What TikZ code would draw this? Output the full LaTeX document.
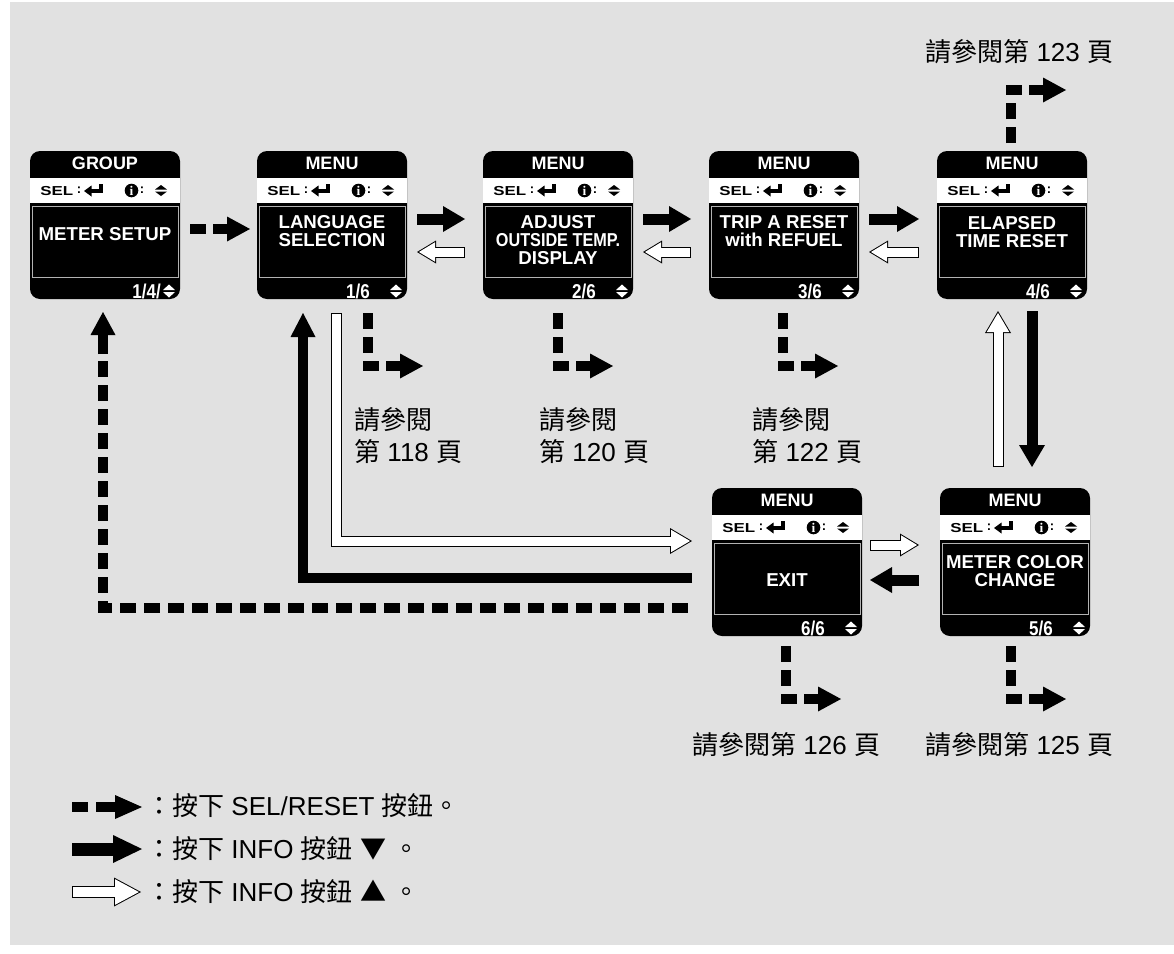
\documentclass[tikz,border=0pt]{standalone}
\usepackage{fontspec}
\setmainfont{Liberation Sans}
\newfontfamily\cjk{Noto Sans CJK TC}
\newfontfamily\infofont{Liberation Serif}
\usetikzlibrary{arrows.meta,calc}
\definecolor{bggray}{RGB}{225,225,225}
\tikzset{
  screenbox/.style={fill=black, rounded corners=7.5pt, minimum width=112.5pt, minimum height=111pt, inner sep=0pt, outer sep=0pt},
  wtxt/.style={text=white, font=\fontsize{13.5}{13.8}\selectfont\bfseries, align=center, inner sep=0pt},
  bodytxt/.style={text=white, font=\fontsize{14}{13.8}\selectfont\bfseries, align=center, inner sep=0pt},
  ftxt/.style={text=white, font=\fontsize{15}{15}\selectfont\bfseries, inner sep=0pt},
  btxt/.style={text=black, font=\fontsize{9.75}{10}\selectfont\bfseries, inner sep=0pt},
  panelline/.style={draw=white!70!black, line width=0.6pt},
  blackarrow/.style={line width=8.25pt, line join=miter, -{Triangle[length=16.5pt, width=19.5pt, line width=0pt]}},
  blackloop/.style={line width=7.5pt, line join=miter, -{Triangle[length=18pt, width=18.75pt, line width=0pt]}},
  wout/.style={line width=8.25pt, black, line join=miter, -{Triangle[length=14.25pt, width=17.25pt, line width=0pt]}},
  win/.style={line width=6.75pt, white, line join=miter, shorten <=0.75pt, shorten >=1.45pt, -{Triangle[length=12.05pt, width=14.6pt, line width=0pt]}},
  woutB/.style={line width=8.25pt, black, line join=miter, -{Triangle[length=16.5pt, width=19.5pt, line width=0pt]}},
  winB/.style={line width=6.75pt, white, line join=miter, shorten <=0.75pt, shorten >=1.47pt, -{Triangle[length=14.28pt, width=16.9pt, line width=0pt]}},
  seldash/.style={line width=7.5pt, dash pattern=on 12pt off 6pt, line join=miter, line cap=butt},
  selhead/.style={line width=7.5pt, -{Triangle[length=17.25pt, width=18.75pt, line width=0pt]}},
  legsel/.style={line width=7.5pt, -{Triangle[length=20.25pt, width=18pt, line width=0pt]}},
  legblack/.style={line width=9.75pt, -{Triangle[length=21.75pt, width=21pt, line width=0pt]}},
  legwout/.style={line width=9pt, black, -{Triangle[length=20.25pt, width=21.75pt, line width=0pt]}},
  legwin/.style={line width=7.5pt, white, shorten <=0.75pt, shorten >=1.58pt, -{Triangle[length=17.9pt, width=19.25pt, line width=0pt]}},
  lab/.style={font=\fontsize{19.5}{24}\selectfont, inner sep=0pt, align=left, anchor=west},
}
\newcommand\updown[4]{%
  \fill[#3] (#1-6,#2-1) -- (#1+6,#2-1) -- (#1,#2-#4) -- cycle;
  \fill[#3] (#1-6,#2+1) -- (#1+6,#2+1) -- (#1,#2+#4) -- cycle;}
\newcommand\whitearrow[3]{\draw[#1] #3; \draw[#2] #3;}
% #1 name, #2 x, #3 y, #4 title, #5 body, #6 body y, #7 footer, #8 footer right x
\newcommand\screen[8]{%
  \begin{scope}[shift={(#2,#3)}]
    \node[screenbox] (#1) at (75,74) {};
    \fill[white] (0,27) rectangle (150,52);
    \draw[panelline] (2,55) rectangle (148,126);
    \node[wtxt] (#1-title) at (75,12.5) {#4};
    \node[bodytxt] (#1-body) at (75,#6) {#5};
    \node[ftxt, anchor=east] (#1-foot) at (#8,140) {\scalebox{0.85}[1]{#7}};
    \node[btxt, anchor=west] (#1-sel) at (10,40) {\scalebox{1.3}[1]{SEL}};
    \node[btxt] (#1-c1) at (49,39) {:};
    \fill (54,40) -- (61.5,34.5) -- (61.5,45.5) -- cycle;
    \draw[line width=2.4pt, line join=miter] (60,40) -- (71,40) -- (71,33);
    \fill (101.5,39.5) circle[radius=6.8];
    \node[text=white, font=\fontsize{10}{10}\selectfont\infofont\bfseries, inner sep=0pt] (#1-i) at (101.5,39.8) {i};
    \node[btxt] (#1-c2) at (112,39) {:};
    \updown{131}{39.5}{black}{5.5}
    \updown{139}{140}{white}{6.5}
  \end{scope}}
\begin{document}
\begin{tikzpicture}[x=0.75pt,y=-0.75pt]
\useasboundingbox (0,0) rectangle (1174,953);
\fill[white] (0,0) rectangle (1174,953);
\fill[bggray] (10,2) rectangle (1174,945);

% screens
\screen{b1}{30}{151}{GROUP}{METER SETUP}{83}{1/4/}{131}
\screen{b2}{257}{151}{MENU}{LANGUAGE\\SELECTION}{80}{1/6}{113}
\screen{b3}{483}{151}{MENU}{ADJUST\\\scalebox{0.87}[1]{OUTSIDE TEMP.}\\DISPLAY}{89}{2/6}{113}
\screen{b4}{709}{151}{MENU}{TRIP A RESET\\with REFUEL}{80}{3/6}{113}
\screen{b5}{937}{151}{MENU}{ELAPSED\\TIME RESET}{81}{4/6}{113}
\screen{b6}{712}{488}{MENU}{EXIT}{92}{6/6}{113}
\screen{b7}{940}{488}{MENU}{METER COLOR\\CHANGE}{83}{5/6}{113}

% GROUP -> LANGUAGE (SEL/RESET)
\draw[seldash] ($(b1.east)+(10,4)$) -- ($(b1.east)+(27,4)$);
\draw[selhead] ($(b1.east)+(33,4)$) -- ($(b2.west)+(-7,4)$);

% top row INFO arrows
\draw[blackarrow] ($(b2.east)+(10,-6)$) -- ($(b3.west)+(-18,-6)$);
\draw[blackarrow] ($(b3.east)+(10,-6)$) -- ($(b4.west)+(-18,-6)$);
\draw[blackarrow] ($(b4.east)+(10,-6)$) -- ($(b5.west)+(-18,-6)$);
\whitearrow{wout}{win}{($(b3.west)+(-18,27)$) -- ($(b2.east)+(10,27)$)}
\whitearrow{wout}{win}{($(b4.west)+(-18,27)$) -- ($(b3.east)+(10,27)$)}
\whitearrow{wout}{win}{($(b5.west)+(-18,27)$) -- ($(b4.east)+(10,27)$)}

% vertical between ELAPSED and METER COLOR
\draw[blackarrow] ($(b5.south)+(20,12)$) -- ($(b7.north)+(17,-21)$);
\whitearrow{woutB}{winB}{($(b7.north)+(-17,-21)$) -- ($(b5.south)+(-14,12)$)}

% bottom row
\whitearrow{wout}{win}{($(b6.east)+(8,-17)$) -- ($(b7.west)+(-21,-17)$)}
\draw[blackarrow] ($(b7.west)+(-21,18)$) -- ($(b6.east)+(8,18)$);

% loops back from EXIT
\whitearrow{woutB}{winB}{($(b2.south)+(4,14)$) |- ($(b6.west)+(-20,-21)$)}
\draw[blackloop] ($(b6.west)+(-20,16)$) -| ($(b2.south)+(-29,14)$);
\draw[seldash] ($(b1.south)+(-2,62)$) |- ($(b6.west)+(-20,46)$);
\draw[selhead] ($(b1.south)+(-2,55)$) -- ($(b1.south)+(-2,13)$);

% SEL/RESET references
\draw[seldash] ($(b2.south)+(36,14)$) |- ($(b2.south)+(47,67)$);
\draw[selhead] ($(b2.south)+(54,67)$) -- ($(b2.south)+(91,67)$);
\draw[seldash] ($(b3.south)+(0,14)$) |- ($(b3.south)+(11,67)$);
\draw[selhead] ($(b3.south)+(18,67)$) -- ($(b3.south)+(55,67)$);
\draw[seldash] ($(b4.south)+(-1,14)$) |- ($(b4.south)+(10,67)$);
\draw[selhead] ($(b4.south)+(17,67)$) -- ($(b4.south)+(54,67)$);
\draw[seldash] ($(b6.south)+(-1,10)$) |- ($(b6.south)+(10,63)$);
\draw[selhead] ($(b6.south)+(17,63)$) -- ($(b6.south)+(54,63)$);
\draw[seldash] ($(b7.south)+(-4,10)$) |- ($(b7.south)+(7,63)$);
\draw[selhead] ($(b7.south)+(14,63)$) -- ($(b7.south)+(51,63)$);
\draw[seldash] ($(b5.north)+(-1,-8)$) |- ($(b5.north)+(10,-61)$);
\draw[selhead] ($(b5.north)+(17,-61)$) -- ($(b5.north)+(54,-61)$);

% labels
\node[lab] (l2) at (354,436) {{\cjk 請參閱}\\{\cjk 第} 118 {\cjk 頁}};
\node[lab] (l3) at (539,436) {{\cjk 請參閱}\\{\cjk 第} 120 {\cjk 頁}};
\node[lab] (l4) at (752,436) {{\cjk 請參閱}\\{\cjk 第} 122 {\cjk 頁}};
\node[lab] (l5) at (925,52) {{\cjk 請參閱第} 123 {\cjk 頁}};
\node[lab] (l6) at (692,745) {{\cjk 請參閱第} 126 {\cjk 頁}};
\node[lab] (l7) at (925,745) {{\cjk 請參閱第} 125 {\cjk 頁}};

% legend
\coordinate (g1a) at (72,807); \coordinate (g1b) at (88,807);
\coordinate (g1c) at (96,807); \coordinate (g1d) at (142,807);
\draw[seldash] (g1a) -- (g1b);
\draw[legsel] (g1c) -- (g1d);
\coordinate (g2a) at (72,849); \coordinate (g2b) at (142,849);
\draw[legblack] (g2a) -- (g2b);
\coordinate (g3a) at (72,892); \coordinate (g3b) at (141,892);
\whitearrow{legwout}{legwin}{(g3a) -- (g3b)}
\node[lab] (t1) at (146,806) {{\cjk ：按下} SEL/RESET {\cjk 按鈕。}};
\node[lab] (t2) at (146,849) {{\cjk ：按下} INFO {\cjk 按鈕} {\cjk ▼} {\cjk 。}};
\node[lab] (t3) at (146,892) {{\cjk ：按下} INFO {\cjk 按鈕} {\cjk ▲} {\cjk 。}};
\end{tikzpicture}
\end{document}
